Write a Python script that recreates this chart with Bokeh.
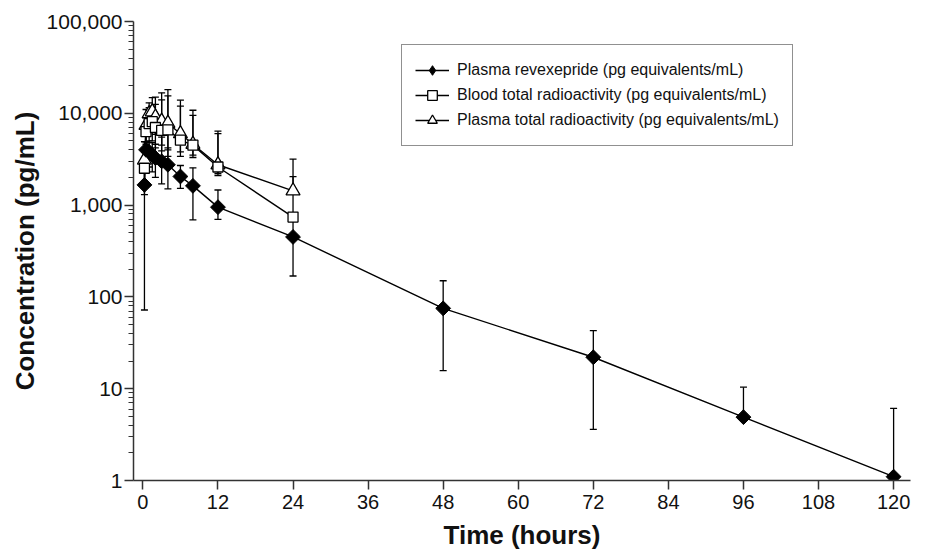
import numpy as np
from bokeh.plotting import figure
from bokeh.models import (ColumnDataSource, Whisker, TeeHead, FixedTicker,
                          NumeralTickFormatter, Range1d, Legend, LegendItem)
from bokeh.embed import file_html
from bokeh.resources import INLINE

# ---------------- data ----------------
time_rev = [0.25, 0.5, 1, 1.5, 2, 3, 4, 6, 8, 12, 24, 48, 72, 96, 120]
rev_mean = [1660, 4000, 3800, 3500, 3250, 3000, 2750, 2050, 1620, 950, 450, 75, 22, 4.9, 1.1]
rev_upper = [3250, 4900, 5000, 4800, 4600, 5500, 4200, 2700, 2550, 1460, 730, 150, 43, 10.4, 6.1]
rev_lower = [72, 3100, 2600, 2300, 2000, 1700, 1500, 1520, 690, 700, 169, 15.7, 3.6, None, None]

time_rad = [0.25, 0.5, 1, 1.5, 2, 3, 4, 6, 8, 12, 24]
blood_mean = [2520, 6300, 7700, 8100, 7000, 6500, 6600, 5100, 4500, 2600, 740]
blood_upper = [3800, 9000, 11500, 12000, 12500, 14000, 15500, 12000, 9500, 6000, 2040]
blood_lower = [1300, 3900, 4800, 5000, 4200, 3900, 3400, 3400, 3300, 2100, None]

plasma_mean = [3100, 7400, 9900, 10400, 9100, 8200, 7800, 6000, 4600, 2750, 1430]
plasma_upper = [4900, 11000, 13000, 14800, 15000, 16700, 18100, 13900, 10800, 6400, 3170]
plasma_lower = [1700, 4600, 6600, 6900, 5900, 4500, 4000, 3800, 3500, 2200, None]

x_ticks = [0, 12, 24, 36, 48, 60, 72, 84, 96, 108, 120]
y_ticks = [1, 10, 100, 1000, 10000, 100000]

labels = ["Plasma revexepride (pg equivalents/mL)",
          "Blood total radioactivity (pg equivalents/mL)",
          "Plasma total radioactivity (pg equivalents/mL)"]

FONT = "Liberation Sans"
INK = "black"

p = figure(width=920, height=552, y_axis_type="log",
           x_range=Range1d(-1.5, 122.7), y_range=Range1d(1, 100000),
           output_backend="svg", toolbar_location=None,
           min_border_left=133, min_border_right=10,
           min_border_top=21, min_border_bottom=71)
p.outline_line_color = None
p.xgrid.visible = False
p.ygrid.visible = False
p.background_fill_color = "white"
p.border_fill_color = "white"

# axes
p.xaxis.ticker = FixedTicker(ticks=x_ticks, minor_ticks=[])
minor = [m * 10 ** k for k in range(0, 5) for m in range(2, 10)]
p.yaxis.ticker = FixedTicker(ticks=y_ticks, minor_ticks=minor)
p.yaxis.formatter = NumeralTickFormatter(format="0,0")
for ax in (p.xaxis, p.yaxis):
    ax.axis_line_color = "#333333"
    ax.axis_line_width = 1.5
    ax.major_tick_line_color = "#333333"
    ax.major_tick_line_width = 1.5
    ax.minor_tick_line_color = "#333333"
    ax.minor_tick_line_width = 1.2
    ax.major_tick_in = 0
    ax.major_tick_out = 9
    ax.minor_tick_in = 0
    ax.minor_tick_out = 5
    ax.major_label_text_font = FONT
    ax.major_label_text_color = "#111111"
    ax.axis_label_text_font = FONT
    ax.axis_label_text_font_size = "26px"
    ax.axis_label_text_font_style = "bold"
    ax.axis_label_text_color = "#111111"
p.xaxis.major_label_text_font_size = "20px"
p.yaxis.major_label_text_font_size = "21px"
p.xaxis.axis_label = "Time (hours)"
p.yaxis.axis_label = "Concentration (pg/mL)"
p.xaxis.major_label_standoff = 5
p.xaxis.axis_label_standoff = 8
p.yaxis.major_label_standoff = 2
p.yaxis.axis_label_standoff = 4


def add_errorbars(t, m, hi, lo):
    up = ColumnDataSource(dict(t=t, m=m, hi=hi))
    w1 = Whisker(source=up, base="t", upper="hi", lower="m", dimension="height",
                 line_color=INK, line_width=1.3, level="underlay",
                 upper_head=TeeHead(size=7, line_color=INK, line_width=1.3),
                 lower_head=None)
    p.add_layout(w1)
    idx = [i for i, v in enumerate(lo) if v is not None]
    dn = ColumnDataSource(dict(t=[t[i] for i in idx], m=[m[i] for i in idx],
                               lo=[lo[i] for i in idx]))
    w2 = Whisker(source=dn, base="t", upper="m", lower="lo", dimension="height",
                 line_color=INK, line_width=1.3, level="underlay",
                 lower_head=TeeHead(size=7, line_color=INK, line_width=1.3),
                 upper_head=None)
    p.add_layout(w2)


add_errorbars(time_rad, plasma_mean, plasma_upper, plasma_lower)
add_errorbars(time_rad, blood_mean, blood_upper, blood_lower)
add_errorbars(time_rev, rev_mean, rev_upper, rev_lower)

l_pl = p.line(time_rad, plasma_mean, line_color=INK, line_width=1.4)
l_bl = p.line(time_rad, blood_mean, line_color=INK, line_width=1.4)
l_rv = p.line(time_rev, rev_mean, line_color=INK, line_width=1.4)

m_pl = p.scatter(time_rad, plasma_mean, marker="triangle", size=14,
                 fill_color="white", line_color=INK, line_width=1.3)
m_bl = p.scatter(time_rad, blood_mean, marker="square", size=10,
                 fill_color="white", line_color=INK, line_width=1.3)
m_rv = p.scatter(time_rev, rev_mean, marker="square", angle=np.pi / 4, size=10.5,
                 fill_color=INK, line_color=INK, line_width=1.0)
# legend-only diamond symbol (legend glyphs are drawn unrotated); no visible point
key_rv = p.scatter(x=[float("nan")], y=[float("nan")], marker="diamond",
                   fill_color=INK, line_color=INK, line_width=1.0)

legend = Legend(items=[LegendItem(label=labels[0], renderers=[l_rv, key_rv]),
                       LegendItem(label=labels[1], renderers=[l_bl, m_bl]),
                       LegendItem(label=labels[2], renderers=[l_pl, m_pl])],
                location=(268, 334))
legend.label_text_font = FONT
legend.label_text_font_size = "16px"
legend.label_text_color = "#111111"
legend.border_line_color = "#222222"
legend.border_line_width = 1.3
legend.background_fill_alpha = 1.0
legend.padding = 13
legend.spacing = 1
legend.label_height = 24
legend.glyph_height = 24
legend.glyph_width = 34
legend.label_standoff = 8
legend.margin = 0
p.add_layout(legend)

open("out.html", "w").write(file_html(p, INLINE))
